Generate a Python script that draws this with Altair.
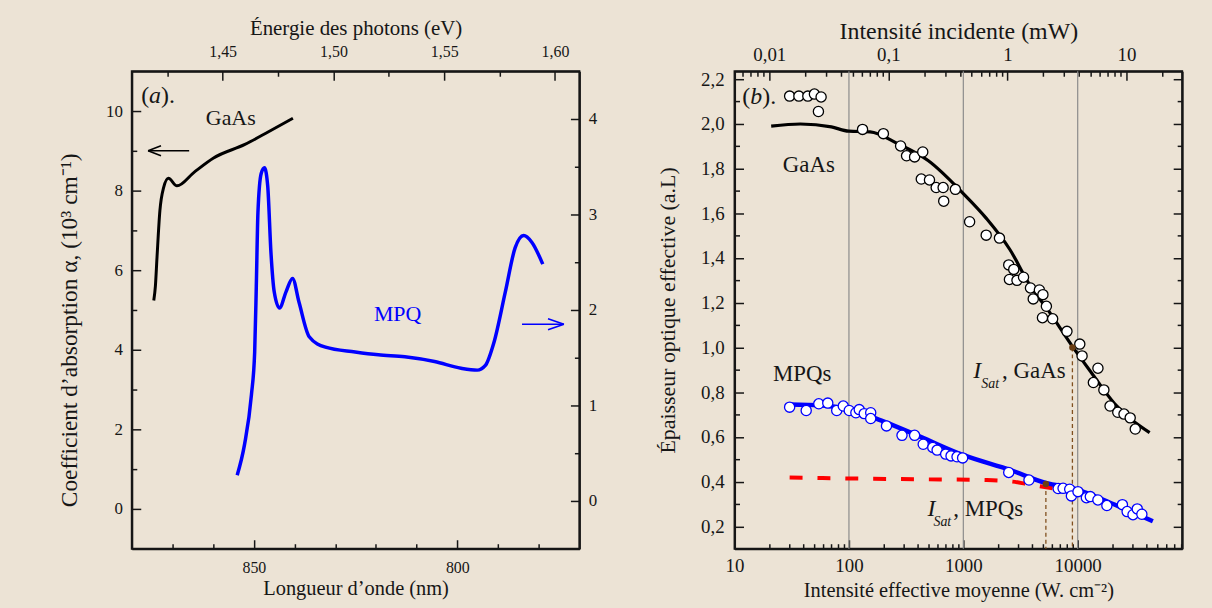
import altair as alt
import pandas as pd

SERIF = "Liberation Serif"
PAPER = "#ece3d5"
INK = "#161616"
BLUE = "#0000ff"
RED = "#ff0000"
BROWN = "#6b3e14"
GREY = "#8c8c8c"

# ---------------- (a) absorption spectra ----------------
# GaAs absorption coefficient (10^3 cm^-1, left axis)
gaas_wavelength = [874.6, 874.2, 873.8, 873.1, 872.2, 871.0, 868.9, 864.7, 859.9, 852.2, 846.4, 840.4]
gaas_alpha = [5.24, 5.60, 6.33, 7.49, 8.07, 8.31, 8.12, 8.46, 8.82, 9.16, 9.48, 9.82]

# MPQ absorption (right axis)
mpq_wavelength = [854.1, 852.3, 850.6, 849.8, 849.4, 849.0, 848.2, 847.4, 846.6, 845.8,
                  845.0, 843.7, 842.1, 840.5, 838.9, 836.4, 832.4, 825.1, 819.4, 812.9,
                  805.6, 799.1, 795.1, 793.1, 791.0, 788.2, 785.8, 783.7, 781.7, 779.0]
mpq_absorption = [0.27, 0.59, 1.11, 1.56, 2.25, 3.02, 3.43, 3.49, 3.30, 2.60,
                  2.19, 2.02, 2.19, 2.33, 2.08, 1.72, 1.61, 1.56, 1.53, 1.51,
                  1.46, 1.39, 1.37, 1.42, 1.66, 2.19, 2.65, 2.78, 2.71, 2.48]

# ---------------- (b) effective optical thickness ----------------
gaas_intensity = [30.3, 36.5, 43.7, 49.9, 57.1, 54.1, 131.5, 200, 283, 319, 375, 442, 429, 506,
                  579, 666, 674, 852, 1135, 1585, 2070, 2495, 2760, 2530, 2945, 3360, 3865, 4085,
                  4625, 4965, 5325, 4920, 6040, 8055, 10430, 10920, 15030, 13710, 16940, 19180,
                  22400, 25400, 28770, 31860]
gaas_thickness = [2.124, 2.124, 2.124, 2.133, 2.120, 2.055, 1.975, 1.956, 1.901, 1.857, 1.852,
                  1.874, 1.753, 1.749, 1.715, 1.715, 1.654, 1.707, 1.562, 1.502, 1.489, 1.369,
                  1.349, 1.304, 1.300, 1.314, 1.266, 1.217, 1.257, 1.236, 1.184, 1.133, 1.128,
                  1.072, 1.015, 0.962, 0.907, 0.843, 0.810, 0.738, 0.710, 0.702, 0.685, 0.635]
gaas_fit_intensity = [20.9, 37.6, 70.2, 99.8, 153, 265, 495, 1000, 1597, 2552, 3773, 5588,
                      8920, 13180, 21050, 42550]
gaas_fit_thickness = [1.990, 1.999, 1.986, 1.967, 1.964, 1.912, 1.835, 1.688, 1.576, 1.438,
                      1.283, 1.162, 1.007, 0.887, 0.748, 0.619]

mpq_intensity = [30.3, 42.3, 54.5, 65.3, 78.2, 89.2, 100.6, 115, 123, 136, 155, 155, 213, 291,
                 375, 446, 541, 590, 701, 781, 881, 986, 2495, 3750, 6745, 7450, 8515, 8810,
                 10060, 11910, 12890, 15020, 17990, 24600, 27050, 30440, 33170, 36390]
mpq_thickness = [0.733, 0.718, 0.748, 0.751, 0.718, 0.738, 0.718, 0.708, 0.722, 0.704, 0.708,
                 0.682, 0.649, 0.607, 0.607, 0.567, 0.553, 0.541, 0.523, 0.515, 0.511, 0.506,
                 0.441, 0.407, 0.369, 0.370, 0.366, 0.336, 0.355, 0.328, 0.333, 0.318, 0.293,
                 0.297, 0.266, 0.252, 0.278, 0.254]
mpq_fit_intensity = [30.3, 57, 100.6, 190, 423, 1007, 2565, 5345, 9100, 23170, 45400]
mpq_fit_thickness = [0.745, 0.741, 0.722, 0.674, 0.600, 0.518, 0.452, 0.393, 0.370, 0.288, 0.223]

# unsaturated MPQ level (dashed)
flat_intensity = [30.3, 100, 500, 1600, 2700, 3600, 4600, 6100]
flat_thickness = [0.418, 0.414, 0.410, 0.407, 0.400, 0.389, 0.380, 0.370]

# saturation intensities (MPQs, GaAs)
sat_intensity = [5270, 8990]
sat_thickness = [0.389, 1.0]
decade_marks = [100, 1000, 10000]

# ---------------- axis ranges and ticks ----------------
wl_domain = [880, 770]
ev_domain = [1.409, 1.611]
alpha_domain = [-1, 11]
mpq_domain = [-0.5, 4.5]
wl_major = [850, 800]
wl_minor = [870, 860, 840, 830, 820, 810, 790, 780]
ev_major = [1.45, 1.50, 1.55, 1.60]
ev_minor = [1.425, 1.475, 1.525, 1.575]
alpha_major = [0, 2, 4, 6, 8, 10]
alpha_minor = [1, 3, 5, 7, 9]
mpq_major = [0, 1, 2, 3, 4]
mpq_minor = [0.5, 1.5, 2.5, 3.5]

I_domain = [10, 81900]
mw_domain = [0.00511, 29.4]
T_domain = [0.1, 2.235]
I_major = [10, 100, 1000, 10000]
I_minor = [m * d for d in (10, 100, 1000, 10000) for m in range(2, 10) if m * d < 81900]
mw_major = [0.01, 0.1, 1, 10]
mw_minor = [0.006, 0.007, 0.008, 0.009] + [round(m * d, 4) for d in (0.01, 0.1, 1) for m in range(2, 10)] + [20]
T_major = [0.2, 0.4, 0.6, 0.8, 1.0, 1.2, 1.4, 1.6, 1.8, 2.0, 2.2]
T_minor = [0.3, 0.5, 0.7, 0.9, 1.1, 1.3, 1.5, 1.7, 1.9, 2.1]

MAJOR, MINOR = 9, 5


def sc(domain, kind="linear"):
    return alt.Scale(type=kind, domain=domain, nice=False, zero=False)


def axis(orient, values, length, title=None, label_size=None, pad=None, fmt=None,
         expr=None, title_pad=None, title_size=20, title_y=None):
    opts = dict(orient=orient, values=values, tickSize=length, offset=-length,
                domain=False, grid=False, tickColor=INK, tickWidth=1.5, title=title)
    if label_size is None:
        opts["labels"] = False
    else:
        opts.update(labels=True, labelFontSize=label_size, labelPadding=pad,
                    labelFlush=False, labelOverlap=False, labelBound=False)
        if fmt is not None:
            opts["format"] = fmt
        if expr is not None:
            opts["labelExpr"] = expr
    if title is not None:
        opts.update(titleFontSize=title_size, titlePadding=title_pad)
        if title_y is not None:
            opts["titleY"] = title_y
    return alt.Axis(**opts)


def border(orient):
    """Axis reduced to its domain line: draws one side of the frame."""
    return alt.Axis(orient=orient, domain=True, domainColor=INK, domainWidth=2,
                    ticks=False, labels=False, grid=False, title=None)


def carrier(values, channel, scale, ax, other):
    """Invisible layer whose only job is to hold one axis; `other` is the cross scale."""
    df = pd.DataFrame({"tick": values})
    if channel == "x":
        enc = dict(x=alt.X("tick:Q", scale=scale, axis=ax),
                   y=alt.Y(datum=other.domain[0], scale=other, axis=None))
    else:
        enc = dict(y=alt.Y("tick:Q", scale=scale, axis=ax),
                   x=alt.X(datum=other.domain[0], scale=other, axis=None))
    return alt.Chart(df).mark_point(opacity=0, size=1).encode(**enc)


def frame(xs, ys):
    return [
        carrier(xs.domain, "x", xs, border("bottom"), ys),
        carrier(xs.domain, "x", xs, border("top"), ys),
        carrier(ys.domain, "y", ys, border("left"), xs),
        carrier(ys.domain, "y", ys, border("right"), xs),
    ]


def texts(rows, xs, ys, **mark):
    df = pd.DataFrame(rows, columns=["x", "y", "text"])
    style = dict(align="left", baseline="alphabetic", font=SERIF, color=INK)
    style.update(mark)
    return alt.Chart(df).mark_text(**style).encode(
        x=alt.X("x:Q", scale=xs, axis=None),
        y=alt.Y("y:Q", scale=ys, axis=None),
        text="text:N",
    )


comma2 = "replace(format(datum.value, '.2f'), '.', ',')"
comma1 = "replace(format(datum.value, '.1f'), '.', ',')"
comma_any = "replace(toString(datum.value), '.', ',')"

# ================= panel (a) =================
WL, EV, AL, MQ = sc(wl_domain), sc(ev_domain), sc(alpha_domain), sc(mpq_domain)

a_axes = [
    carrier(wl_major, "x", WL, axis("bottom", wl_major, MAJOR, "Longueur d’onde (nm)", 16, 11, "d",
                                    title_pad=3, title_size=20.5), AL),
    carrier(wl_minor, "x", WL, axis("bottom", wl_minor, MINOR), AL),
    carrier(ev_major, "x", EV, axis("top", ev_major, MAJOR, "Énergie des photons (eV)", 16, 12, expr=comma2,
                                    title_pad=5, title_size=21), AL),
    carrier(ev_minor, "x", EV, axis("top", ev_minor, MINOR), AL),
    carrier(alpha_major, "y", AL, axis("left", alpha_major, MAJOR, "Coefficient d’absorption α, (10³ cm⁻¹)",
                                       17, 9.5, "d", title_pad=24.5, title_size=23.5, title_y=260), WL),
    carrier(alpha_minor, "y", AL, axis("left", alpha_minor, MINOR), WL),
    carrier(mpq_major, "y", MQ, axis("right", mpq_major, MAJOR, None, 17, 9, "d"), WL),
    carrier(mpq_minor, "y", MQ, axis("right", mpq_minor, MINOR), WL),
] + frame(WL, AL)

gaas_a = pd.DataFrame({"wl": gaas_wavelength, "v": gaas_alpha, "i": range(len(gaas_alpha))})
mpq_a = pd.DataFrame({"wl": mpq_wavelength, "v": mpq_absorption, "i": range(len(mpq_absorption))})

gaas_line_a = alt.Chart(gaas_a).mark_line(color="black", strokeWidth=3, interpolate="monotone").encode(
    x=alt.X("wl:Q", scale=WL, axis=None), y=alt.Y("v:Q", scale=AL, axis=None), order="i:Q")
mpq_line_a = alt.Chart(mpq_a).mark_line(color=BLUE, strokeWidth=3.5, interpolate="monotone").encode(
    x=alt.X("wl:Q", scale=WL, axis=None), y=alt.Y("v:Q", scale=MQ, axis=None), order="i:Q")

# arrows pointing to each curve's axis
arrow_left = pd.DataFrame({"tip": [876.0], "tail": [865.9], "v": [9.0]})
arrow_right = pd.DataFrame({"tip": [773.8], "tail": [784.1], "v": [1.85]})
shaft_l = alt.Chart(arrow_left).mark_rule(color="black", strokeWidth=1.5).encode(
    x=alt.X("tip:Q", scale=WL, axis=None), x2="tail:Q", y=alt.Y("v:Q", scale=AL, axis=None))
head_l = alt.Chart(arrow_left).mark_point(shape="M0,0L2.6,-1M0,0L2.6,1", filled=False, stroke="black",
                                          strokeWidth=1.6, size=100, opacity=1).encode(
    x=alt.X("tip:Q", scale=WL, axis=None), y=alt.Y("v:Q", scale=AL, axis=None))
shaft_r = alt.Chart(arrow_right).mark_rule(color=BLUE, strokeWidth=1.5).encode(
    x=alt.X("tail:Q", scale=WL, axis=None), x2="tip:Q", y=alt.Y("v:Q", scale=MQ, axis=None))
head_r = alt.Chart(arrow_right).mark_point(shape="M0,0L-3.2,-1.1M0,0L-3.2,1.1", filled=False, stroke=BLUE,
                                           strokeWidth=1.6, size=100, opacity=1).encode(
    x=alt.X("tip:Q", scale=WL, axis=None), y=alt.Y("v:Q", scale=MQ, axis=None))

a_tag = [
    texts([[877.7, 10.2, "("]], WL, AL, fontSize=24),
    texts([[877.7, 10.2, "a"]], WL, AL, fontSize=24, fontStyle="italic", dx=8),
    texts([[877.7, 10.2, ")."]], WL, AL, fontSize=24, dx=20),
    texts([[861.8, 9.65, "GaAs"]], WL, AL, fontSize=22),
    texts([[820.5, 1.88, "MPQ"]], WL, MQ, fontSize=22, color=BLUE),
]

panel_a = alt.layer(
    *a_axes, gaas_line_a, mpq_line_a, shaft_l, head_l, shaft_r, head_r, *a_tag
).resolve_scale(x="independent", y="independent").properties(width=450, height=480)

# ================= panel (b) =================
IX, MW, TY = sc(I_domain, "log"), sc(mw_domain, "log"), sc(T_domain)

b_axes = [
    carrier(I_major, "x", IX, axis("bottom", I_major, MAJOR, "Intensité effective moyenne (W. cm⁻²)", 19, 8, "d",
                                   title_pad=5, title_size=20.5), TY),
    carrier(I_minor, "x", IX, axis("bottom", I_minor, MINOR), TY),
    carrier(mw_major, "x", MW, axis("top", mw_major, MAJOR, "Intensité incidente (mW)", 19, 7, expr=comma_any,
                                    title_pad=2, title_size=24), TY),
    carrier(mw_minor, "x", MW, axis("top", mw_minor, MINOR), TY),
    carrier(T_major, "y", TY, axis("left", T_major, MAJOR, "Épaisseur optique effective (a.L)", 19, 10.5, expr=comma1,
                                   title_pad=21, title_size=22), IX),
    carrier(T_minor, "y", TY, axis("left", T_minor, MINOR), IX),
    carrier(T_major, "y", TY, axis("right", T_major, MAJOR), IX),
    carrier(T_minor, "y", TY, axis("right", T_minor, MINOR), IX),
] + frame(IX, TY)

decades = alt.Chart(pd.DataFrame({"I": decade_marks})).mark_rule(color=GREY, strokeWidth=1.2).encode(
    x=alt.X("I:Q", scale=IX, axis=None),
    y=alt.Y(datum=T_domain[1], scale=TY, axis=None),
    y2=alt.datum(T_domain[0]))

sat = pd.DataFrame({"I": sat_intensity, "T": sat_thickness})
sat_drop = alt.Chart(sat).mark_rule(color="#80501f", strokeWidth=1.3, strokeDash=[4, 3]).encode(
    x=alt.X("I:Q", scale=IX, axis=None), y=alt.Y("T:Q", scale=TY, axis=None), y2=alt.datum(T_domain[0]))
sat_dot = alt.Chart(sat).mark_circle(color=BROWN, size=42, opacity=1).encode(
    x=alt.X("I:Q", scale=IX, axis=None), y=alt.Y("T:Q", scale=TY, axis=None))


def curve(xs, ys, **mark):
    df = pd.DataFrame({"I": xs, "T": ys, "i": range(len(xs))})
    return alt.Chart(df).mark_line(interpolate="monotone", **mark).encode(
        x=alt.X("I:Q", scale=IX, axis=None), y=alt.Y("T:Q", scale=TY, axis=None), order="i:Q")


def dots(xs, ys, edge):
    df = pd.DataFrame({"I": xs, "T": ys})
    return alt.Chart(df).mark_point(shape="circle", filled=True, fill="white", stroke=edge,
                                    strokeWidth=1.3, size=105, opacity=1).encode(
        x=alt.X("I:Q", scale=IX, axis=None), y=alt.Y("T:Q", scale=TY, axis=None))


flat_line = curve(flat_intensity, flat_thickness, color=RED, strokeWidth=4, strokeDash=[13, 15])
gaas_fit = curve(gaas_fit_intensity, gaas_fit_thickness, color="black", strokeWidth=3.2)
mpq_fit = curve(mpq_fit_intensity, mpq_fit_thickness, color=BLUE, strokeWidth=4.5)
gaas_pts = dots(gaas_intensity, gaas_thickness, "black")
mpq_pts = dots(mpq_intensity, mpq_thickness, BLUE)

b_tag = [
    texts([[11.7, 2.088, "("]], IX, TY, fontSize=24),
    texts([[11.7, 2.088, "b"]], IX, TY, fontSize=24, fontStyle="italic", dx=8),
    texts([[11.7, 2.088, ")."]], IX, TY, fontSize=24, dx=20),
    texts([[26.4, 1.786, "GaAs"]], IX, TY, fontSize=23),
    texts([[21.7, 0.852, "MPQs"]], IX, TY, fontSize=23),
    texts([[1222, 0.865, "I"]], IX, TY, fontSize=24, fontStyle="italic"),
    texts([[1222, 0.865, "Sat"]], IX, TY, fontSize=14, fontStyle="italic", dx=8, dy=10),
    texts([[1222, 0.865, ", GaAs"]], IX, TY, fontSize=23, dx=29),
    texts([[486, 0.247, "I"]], IX, TY, fontSize=24, fontStyle="italic"),
    texts([[486, 0.247, "Sat"]], IX, TY, fontSize=14, fontStyle="italic", dx=6, dy=10),
    texts([[486, 0.247, " , MPQs"]], IX, TY, fontSize=23, dx=26),
]

panel_b = alt.layer(
    *b_axes, decades, sat_drop, flat_line, gaas_fit, mpq_fit, gaas_pts, mpq_pts, sat_dot, *b_tag
).resolve_scale(x="independent", y="independent").properties(width=450, height=480)

chart = alt.hconcat(panel_a, panel_b, spacing=57).properties(
    background=PAPER,
    padding={"left": 56.5, "top": 15, "right": 28, "bottom": 6.5},
).configure_view(stroke=INK, strokeWidth=2).configure_axis(
    labelFont=SERIF, titleFont=SERIF, labelColor=INK, titleColor=INK, titleFontWeight="normal"
)

chart.save("out.html", embed_options={"renderer": "svg", "actions": False})
